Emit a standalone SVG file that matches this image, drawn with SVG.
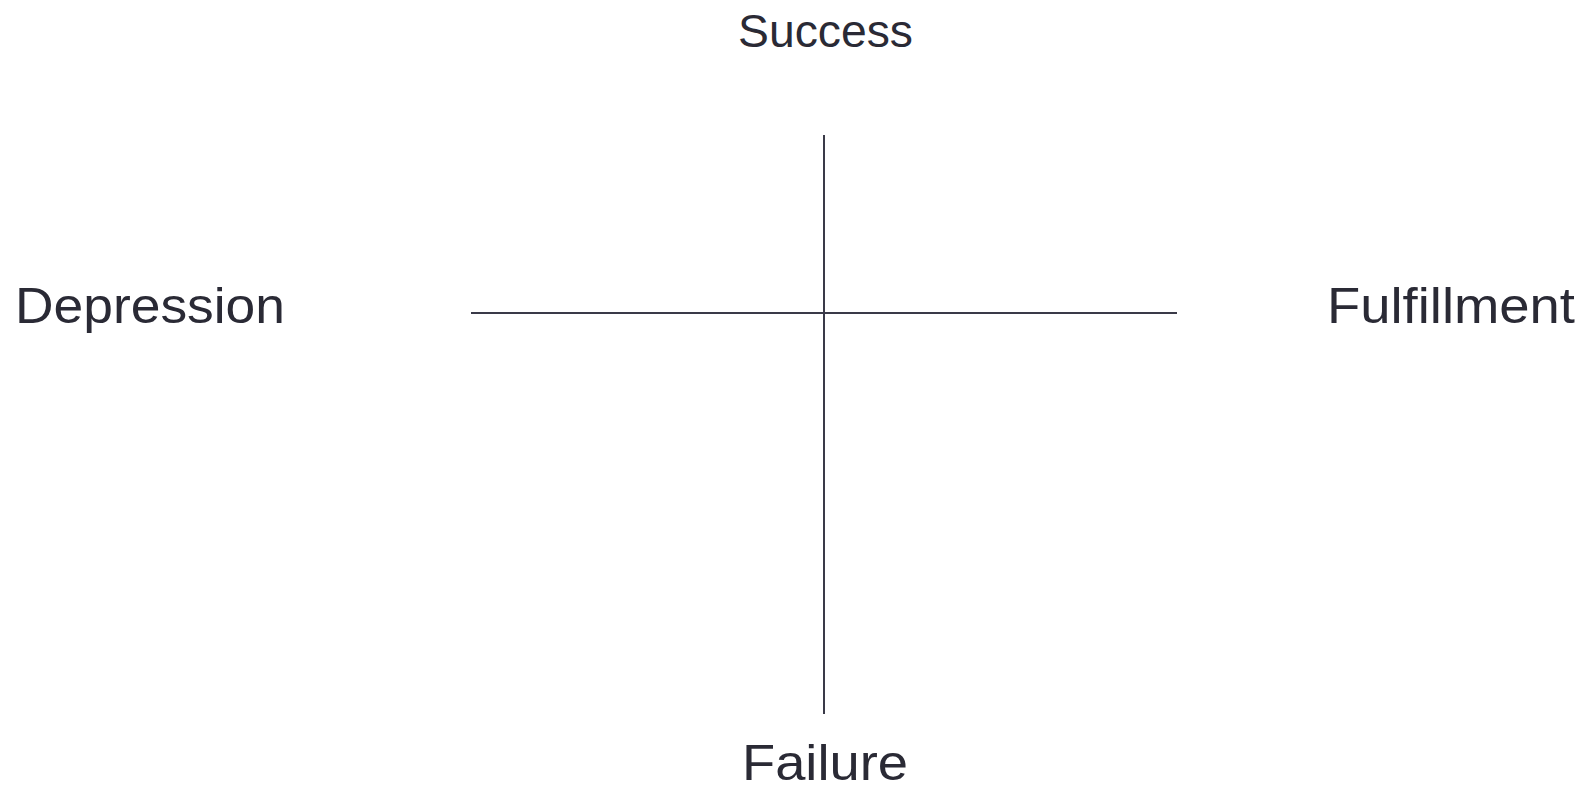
<svg xmlns="http://www.w3.org/2000/svg" width="1587" height="792" viewBox="0 0 1587 792">
<style>
.lbl{font-family:"Liberation Sans",Arial,sans-serif;font-size:50px;fill:#2a2a35}
.axis{stroke:#3a3a48;stroke-width:2;fill:none}
</style>
<rect width="1587" height="792" fill="#ffffff"/>
<g id="connectors">
<line class="axis" x1="824" y1="135" x2="824" y2="714"/>
<line class="axis" x1="471" y1="313" x2="1177" y2="313"/>
</g>
<g id="success"><text class="lbl" x="738" y="47" style="font-size:47px" textLength="175" lengthAdjust="spacingAndGlyphs">Success</text></g>
<g id="depression"><text class="lbl" x="15" y="323" textLength="270" lengthAdjust="spacingAndGlyphs">Depression</text></g>
<g id="fulfillment"><text class="lbl" x="1327" y="323" textLength="248" lengthAdjust="spacingAndGlyphs">Fulfillment</text></g>
<g id="failure"><text class="lbl" x="742" y="780" textLength="166" lengthAdjust="spacingAndGlyphs">Failure</text></g>
</svg>
